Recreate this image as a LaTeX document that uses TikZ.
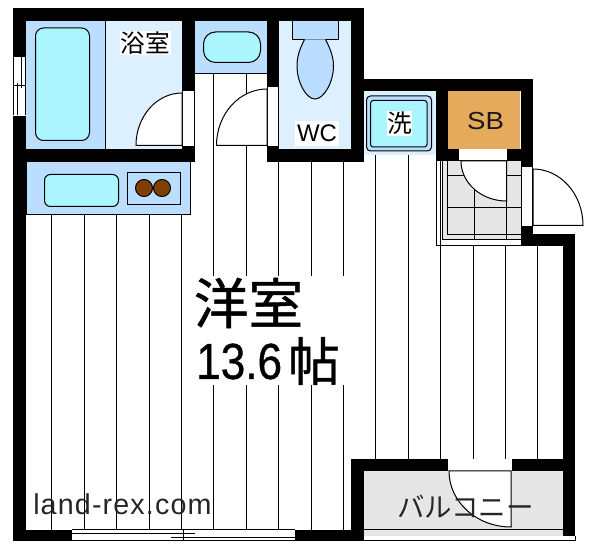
\documentclass[tikz,border=0pt]{standalone}
\usepackage{fontspec}
\setmainfont{Liberation Sans}
\newfontfamily\cjk{Noto Sans CJK JP}
\newfontfamily\cjkheavy[FakeBold=0.8]{Noto Sans CJK JP}
\newfontfamily\digitheavy[FakeBold=0.8]{Liberation Sans}
\definecolor{bathblue}{HTML}{BBDDFF}
\definecolor{paleblue}{HTML}{DDF0FF}
\definecolor{tubcyan}{HTML}{AAF5FF}
\definecolor{sborange}{HTML}{E5AA5C}
\definecolor{burner}{HTML}{7F3F00}
\definecolor{tilegray}{HTML}{E6E6E6}
\tikzset{
  wall/.style={fill=black,draw=none},
  thinline/.style={draw=black,line width=0.75pt},
  tub/.style={thinline,fill=tubcyan,rounded corners=6pt},
  fixture/.style={thinline,fill=bathblue},
  doorleaf/.style={thinline,fill=white},
  label/.style={inner sep=0pt,fill=white,text=black},
  bare/.style={inner sep=0pt,text=black!85}
}
\begin{document}
\begin{tikzpicture}[x=0.75pt,y=-0.75pt]
\useasboundingbox (0,0) rectangle (600,555);
\fill[bathblue] (26,21) rectangle (105,149);
\fill[paleblue] (105,21) rectangle (182,149);
\fill[bathblue] (195,21) rectangle (267,74);
\fill[paleblue] (279,21) rectangle (351,149);
\fill[paleblue] (364,91) rectangle (436,155);
\fill[sborange] (448,91) rectangle (520,149);
\fill[tilegray] (364,471) rectangle (563,536);
\draw[thinline] (105,21) -- (105,149);
\draw[thinline] (195,74) -- (267,74);
\foreach \x in {51.3,84.3,116.3,149.3,181.7} \draw[thinline] (\x,214) -- (\x,530);
\draw[thinline] (213.3,74) -- (213.3,530);
\draw[thinline] (246.3,74) -- (246.3,530);
\foreach \x in {278.3,311.3,343.3} \draw[thinline] (\x,162) -- (\x,530);
\foreach \x in {375.3,408.3} \draw[thinline] (\x,155) -- (\x,459);
\foreach \x in {440.3,473.7,505.7,537.7} \draw[thinline] (\x,245) -- (\x,459);
\fill[white] (195,276) rectangle (345,385);
\draw[fixture] (26,162) rectangle (190.5,214.5);
\draw[tub,rounded corners=4.5pt] (44.5,174.5) rectangle (118.5,206.5);
\draw[fixture] (127.5,172.5) rectangle (180.5,204.5);
\draw[thinline] (144,188) -- (162,188);
\draw[thinline,fill=burner] (144,188) circle [radius=8.5];
\draw[thinline,fill=burner] (162,188) circle [radius=8.5];
\draw[tub] (35.5,28) rectangle (89.5,140.5);
\draw[tub,rounded corners=9pt] (203.5,32) rectangle (260.5,62.5);
\draw[fixture] (292,21) rectangle (338.5,39.5);
\draw[fixture] (304.5,39.5) .. controls (299,50) and (297,58) .. (297,66) .. controls (297,82) and (306,99) .. (315,99) .. controls (324,99) and (333.5,82) .. (333.5,66) .. controls (333.5,58) and (331,50) .. (325.5,39.5);
\draw[thinline,fill=bathblue,rounded corners=3pt] (366.5,96) rectangle (431.5,151);
\draw[thinline,fill=tubcyan,rounded corners=2pt] (370.5,100.5) rectangle (427,147);
\draw[thinline,fill=white] (436.5,161) rectangle (521,245.5);
\fill[tilegray] (442.5,161) rectangle (521,239.3);
\draw[thinline] (440.3,161) -- (440.3,245);
\draw[thinline] (442.5,161) -- (442.5,239.3) -- (521,239.3);
\draw[thinline] (447,161) -- (447,234.3) -- (521,234.3);
\draw[thinline] (447,175.3) -- (521,175.3);
\draw[thinline] (447,207.5) -- (521,207.5);
\draw[thinline] (474.5,161) -- (474.5,239.3);
\draw[thinline] (506.5,161) -- (506.5,239.3);
\draw[doorleaf] (461,161) arc[start angle=180,end angle=90,x radius=45.5,y radius=40] -- (506.5,161) -- cycle;
\fill[wall] (13,8) rectangle (364,21);
\fill[wall] (13,8) rectangle (26,57);
\fill[wall] (13,116) rectangle (26,541);
\fill[wall] (13,530) rectangle (72,541);
\fill[wall] (295,530) rectangle (364,541);
\fill[wall] (13,149) rectangle (195,162);
\fill[wall] (182,146) rectangle (195,162);
\fill[wall] (182,8) rectangle (195,91);
\fill[wall] (267,8) rectangle (279,87);
\fill[wall] (267,146) rectangle (279,162);
\fill[wall] (267,149) rectangle (364,162);
\fill[wall] (351,8) rectangle (364,162);
\fill[wall] (351,79) rectangle (533,91);
\fill[wall] (436,91) rectangle (448,161);
\fill[wall] (436,149) rectangle (459,161);
\fill[wall] (507,149) rectangle (533,161);
\fill[wall] (520.7,91) rectangle (533,167);
\fill[wall] (520.7,226) rectangle (533,245.6);
\fill[wall] (520.7,234) rectangle (575,245.6);
\fill[wall] (563,234) rectangle (575,536);
\fill[wall] (351,459) rectangle (448,471);
\fill[wall] (512,459) rectangle (575,471);
\fill[wall] (351,459) rectangle (364,541);
\draw[thinline] (364,530) -- (563,530);
\draw[thinline] (364,541) -- (575,541) -- (575,536);
\draw[thinline] (182.5,91) -- (182.5,146);
\draw[thinline] (194.5,91) -- (194.5,146);
\draw[thinline] (267.5,87) -- (267.5,146);
\draw[thinline] (278.5,87) -- (278.5,146);
\draw[thinline] (521,167) -- (521,226);
\draw[thinline] (532.7,167) -- (532.7,226);
\draw[doorleaf] (136,145.5) arc[start angle=180,end angle=270,x radius=46,y radius=52.5] -- (182,145.5) -- cycle;
\draw[doorleaf] (216.5,145.5) arc[start angle=180,end angle=270,x radius=50.5,y radius=56.5] -- (267,145.5) -- cycle;
\draw[doorleaf] (533,169) arc[start angle=270,end angle=360,x radius=50,y radius=56.5] -- (533,225.5) -- cycle;
\draw[doorleaf] (449,471) arc[start angle=180,end angle=90,x radius=62,y radius=56] -- (511,471) -- cycle;
\draw[thinline] (13.3,57) -- (13.3,115);
\draw[thinline] (21.7,57) -- (21.7,88.5);
\draw[thinline] (17.3,83) -- (17.3,115);
\draw[thinline] (25,57) -- (25,115);
\draw[thinline] (13.3,85.7) -- (25,85.7);
\draw[thinline] (72,530) -- (295,530);
\draw[thinline] (72,541) -- (295,541);
\draw[thinline] (72,533.5) -- (195,533.5);
\draw[thinline] (171,537.7) -- (295,537.7);
\draw[thinline] (183,530) -- (183,541);
\node[label,minimum width=38pt,minimum height=18.4pt] (bathlabel) at (145.2,43.2) {\cjk\fontsize{18.5pt}{18.5pt}\selectfont 浴室};
\node[label,minimum width=33pt,minimum height=18.8pt] (wclabel) at (317,133.5) {\fontsize{18pt}{18pt}\selectfont WC};
\node[label,minimum width=18.8pt,minimum height=18.8pt] (washlabel) at (399.5,123.5) {\cjk\fontsize{18.5pt}{18.5pt}\selectfont 洗};
\node[bare,text=black!90] (sblabel) at (485.5,121) {\fontsize{18.5pt}{18.5pt}\selectfont\scalebox{1.12}[1]{SB}};
\node[bare,text=black] (roomlabel) at (248.5,303) {\cjkheavy\fontsize{41pt}{41pt}\selectfont 洋室};
\node[bare,text=black,anchor=west] (arealabel) at (196,361.5) {\digitheavy\fontsize{38pt}{38pt}\selectfont\scalebox{0.87}[1]{13.6}};
\node[bare,text=black] (tatamilabel) at (314,361) {\cjkheavy\fontsize{39pt}{39pt}\selectfont 帖};
\node[bare] (balconylabel) at (465.5,507) {\cjk\fontsize{20.6pt}{20.6pt}\selectfont バルコニー};
\node[bare,anchor=west] (sitelabel) at (33,504) {\addfontfeature{LetterSpace=4}\fontsize{21.5pt}{21.5pt}\selectfont land-rex.com};
\end{tikzpicture}
\end{document}
